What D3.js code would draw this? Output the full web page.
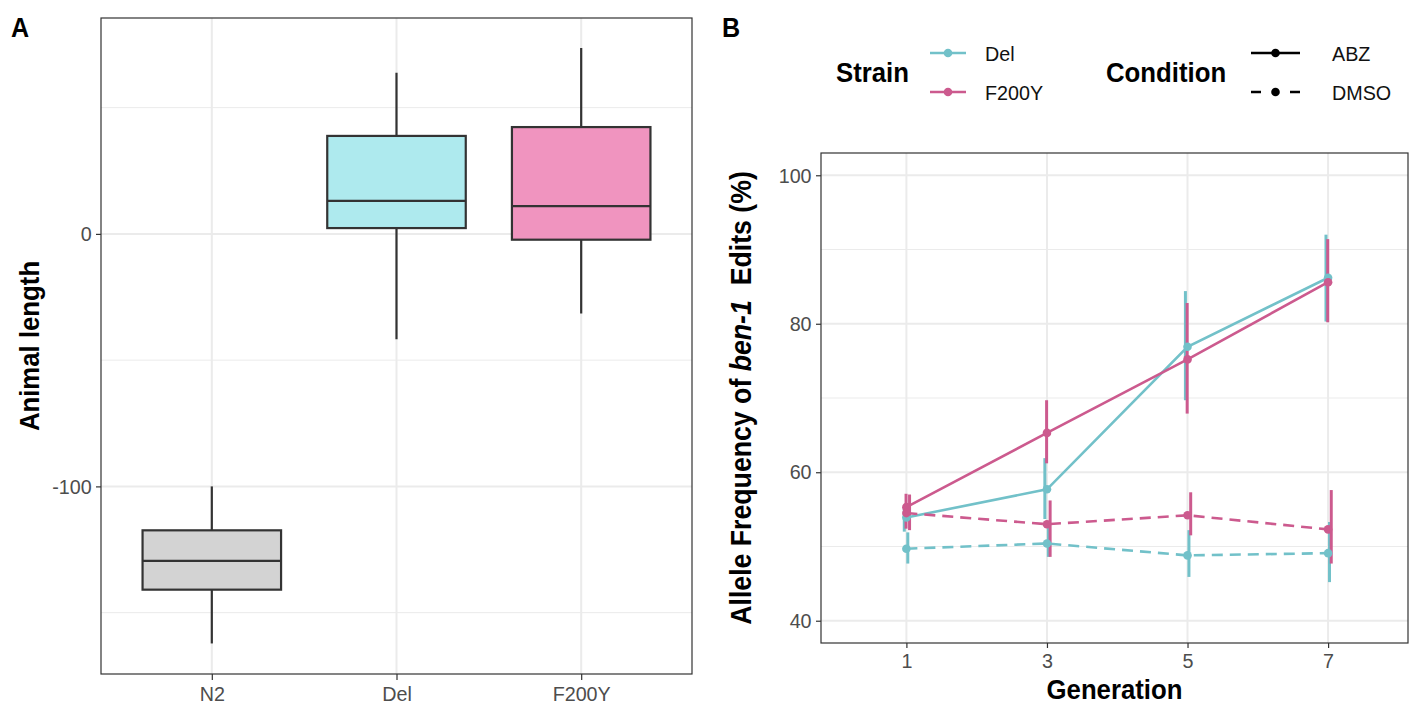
<!DOCTYPE html>
<html><head><meta charset="utf-8">
<script src="https://cdn.jsdelivr.net/npm/d3@7"></script>
<style>
html,body{margin:0;padding:0;background:#fff;}
svg{display:block;font-family:"Liberation Sans",Arial,Helvetica,sans-serif;}
</style></head>
<body>
<svg id="chart" width="1419" height="705"></svg>
<script>
// ---------- Panel A data (box plot of animal length) ----------
const boxCategories = ["N2", "Del", "F200Y"];
const boxWhiskerLow  = [-162.2, -41.7, -31.5];
const boxQ1          = [-140.9,   2.3,  -2.3];
const boxMedian      = [-129.5,  13.1,  11.0];
const boxQ3          = [-117.4,  38.8,  42.3];
const boxWhiskerHigh = [-100.0,  63.8,  73.6];
const boxFills       = ["#d3d3d3", "#aeeaee", "#f094bf"];
const boxYTicks      = [0, -100];

// ---------- Panel B data (allele frequency over generations) ----------
const generations = [1, 3, 5, 7];
const strains = ["Del", "F200Y"];
const conditions = ["ABZ", "DMSO"];
const strainColors = ["#72c1c9", "#cc5a8e"];
const delAbzMean    = [53.9, 57.7, 76.9, 86.2];
const delAbzLow     = [52.0, 53.7, 69.7, 80.3];
const delAbzHigh    = [55.2, 61.9, 84.4, 92.0];
const f200yAbzMean  = [55.3, 65.3, 75.2, 85.6];
const f200yAbzLow   = [52.4, 61.2, 67.9, 80.2];
const f200yAbzHigh  = [57.1, 69.7, 82.8, 91.4];
const delDmsoMean   = [49.7, 50.4, 48.8, 49.1];
const delDmsoLow    = [47.7, 48.6, 45.9, 45.2];
const delDmsoHigh   = [51.9, 53.3, 52.2, 53.3];
const f200yDmsoMean = [54.5, 53.0, 54.2, 52.3];
const f200yDmsoLow  = [52.2, 48.6, 51.5, 47.7];
const f200yDmsoHigh = [57.0, 56.2, 57.3, 57.6];
const lineYTicks = [40, 60, 80, 100];
const lineYMinor = [50, 70, 90];

const series = [
  {strain: 0, cond: 0, mean: delAbzMean,    low: delAbzLow,    high: delAbzHigh,    dodge: -0.03},
  {strain: 1, cond: 0, mean: f200yAbzMean,  low: f200yAbzLow,  high: f200yAbzHigh,  dodge: -0.005},
  {strain: 0, cond: 1, mean: delDmsoMean,   low: delDmsoLow,   high: delDmsoHigh,   dodge: 0.02},
  {strain: 1, cond: 1, mean: f200yDmsoMean, low: f200yDmsoLow, high: f200yDmsoHigh, dodge: 0.045}
];

const svg = d3.select("#chart");
const GRID = "#ebebeb", BORDER = "#333333", TICKTXT = "#4d4d4d";
const TICKFS = 21, TICKSX = 0.94, TITLEFS = 28, TITLESX = 0.92;

function label(g, x, y, str, o) {
  o = o || {};
  const t = g.append("text")
    .attr("transform", `translate(${x},${y})` + (o.rotate ? " rotate(-90)" : "") + ` scale(${o.sx || 1},1)`)
    .attr("text-anchor", o.anchor || "start")
    .attr("font-size", o.size || 16)
    .attr("font-weight", o.bold ? "bold" : "normal")
    .attr("fill", o.fill || "#000");
  if (typeof str === "string") t.text(str);
  else str.forEach(p => t.append("tspan").attr("font-style", p.italic ? "italic" : "normal").text(p.t));
  return t;
}
function styleAxis(g) {
  g.select(".domain").remove();
  g.selectAll(".tick line").attr("stroke", BORDER).attr("stroke-width", 1.2);
  g.selectAll(".tick text").attr("font-size", TICKFS).attr("fill", TICKTXT)
    .attr("font-family", "Liberation Sans, Arial, sans-serif")
    .attr("transform", `scale(${TICKSX},1)`);
}

// ================= Panel A =================
const A = {left: 101, right: 692, top: 18, bottom: 674};
const xA = d3.scalePoint().domain(boxCategories).range([A.left, A.right]).padding(0.6);
const yA = d3.scaleLinear().domain([-174.3, 85.5]).range([A.bottom, A.top]);
const gA = svg.append("g");

const minorA = [-150, -50, 50];
gA.selectAll(".minA").data(minorA).join("line")
  .attr("x1", A.left).attr("x2", A.right).attr("y1", d => yA(d)).attr("y2", d => yA(d))
  .attr("stroke", GRID).attr("stroke-width", 1);
gA.selectAll(".majA").data(boxYTicks).join("line")
  .attr("x1", A.left).attr("x2", A.right).attr("y1", d => yA(d)).attr("y2", d => yA(d))
  .attr("stroke", GRID).attr("stroke-width", 2);
gA.selectAll(".vA").data(boxCategories).join("line")
  .attr("x1", d => xA(d)).attr("x2", d => xA(d)).attr("y1", A.top).attr("y2", A.bottom)
  .attr("stroke", GRID).attr("stroke-width", 2);

const bw = xA.step() * 0.75;
boxCategories.forEach((c, i) => {
  const cx = xA(c);
  gA.append("line").attr("x1", cx).attr("x2", cx)
    .attr("y1", yA(boxWhiskerHigh[i])).attr("y2", yA(boxWhiskerLow[i]))
    .attr("stroke", BORDER).attr("stroke-width", 2.2);
  gA.append("rect").attr("x", cx - bw / 2).attr("width", bw)
    .attr("y", yA(boxQ3[i])).attr("height", yA(boxQ1[i]) - yA(boxQ3[i]))
    .attr("fill", boxFills[i]).attr("stroke", BORDER).attr("stroke-width", 2.2);
  gA.append("line").attr("x1", cx - bw / 2).attr("x2", cx + bw / 2)
    .attr("y1", yA(boxMedian[i])).attr("y2", yA(boxMedian[i]))
    .attr("stroke", BORDER).attr("stroke-width", 2.2);
});
gA.append("rect").attr("x", A.left).attr("y", A.top).attr("width", A.right - A.left).attr("height", A.bottom - A.top)
  .attr("fill", "none").attr("stroke", BORDER).attr("stroke-width", 1.2);

const axLA = gA.append("g").attr("transform", `translate(${A.left},0)`)
  .call(d3.axisLeft(yA).tickValues(boxYTicks).tickFormat(d => String(d)).tickSize(5).tickPadding(5));
styleAxis(axLA);
const axBA = gA.append("g").attr("transform", `translate(0,${A.bottom})`)
  .call(d3.axisBottom(xA).tickSize(6).tickPadding(6));
styleAxis(axBA);

label(gA, 39, (A.top + A.bottom) / 2, "Animal length", {rotate: true, anchor: "middle", size: TITLEFS, bold: true, sx: TITLESX});
label(gA, 11, 37, "A", {size: 27, bold: true, sx: 0.93});

// ================= Panel B =================
const B = {left: 821, right: 1408, top: 153, bottom: 643};
const xB = d3.scaleLinear().domain([-0.215, 8.137]).range([B.left, B.right]);
const yB = d3.scaleLinear().domain([37, 103]).range([B.bottom, B.top]);
const gB = svg.append("g");

gB.selectAll(".minB").data(lineYMinor).join("line")
  .attr("x1", B.left).attr("x2", B.right).attr("y1", d => yB(d)).attr("y2", d => yB(d))
  .attr("stroke", GRID).attr("stroke-width", 1);
gB.selectAll(".majB").data(lineYTicks).join("line")
  .attr("x1", B.left).attr("x2", B.right).attr("y1", d => yB(d)).attr("y2", d => yB(d))
  .attr("stroke", GRID).attr("stroke-width", 2);
gB.selectAll(".vB").data(generations).join("line")
  .attr("x1", d => xB(d)).attr("x2", d => xB(d)).attr("y1", B.top).attr("y2", B.bottom)
  .attr("stroke", GRID).attr("stroke-width", 2);

const DASH = "11,7";
series.forEach(s => {
  gB.append("g").selectAll("line").data(generations).join("line")
    .attr("x1", (d) => xB(d + s.dodge)).attr("x2", (d) => xB(d + s.dodge))
    .attr("y1", (d, i) => yB(s.high[i])).attr("y2", (d, i) => yB(s.low[i]))
    .attr("stroke", strainColors[s.strain]).attr("stroke-width", 3);
});
series.forEach(s => {
  const line = d3.line().x((d) => xB(d)).y((d, i) => yB(s.mean[i]));
  gB.append("path").attr("d", line(generations)).attr("fill", "none")
    .attr("stroke", strainColors[s.strain]).attr("stroke-width", 2.6)
    .attr("stroke-dasharray", s.cond === 1 ? DASH : null);
});
series.forEach(s => {
  gB.append("g").selectAll("circle").data(generations).join("circle")
    .attr("cx", d => xB(d)).attr("cy", (d, i) => yB(s.mean[i])).attr("r", 4.3)
    .attr("fill", strainColors[s.strain]);
});

gB.append("rect").attr("x", B.left).attr("y", B.top).attr("width", B.right - B.left).attr("height", B.bottom - B.top)
  .attr("fill", "none").attr("stroke", BORDER).attr("stroke-width", 1.2);

const axLB = gB.append("g").attr("transform", `translate(${B.left},0)`)
  .call(d3.axisLeft(yB).tickValues(lineYTicks).tickFormat(d => String(d)).tickSize(5).tickPadding(5));
styleAxis(axLB);
const axBB = gB.append("g").attr("transform", `translate(0,${B.bottom})`)
  .call(d3.axisBottom(xB).tickValues(generations).tickFormat(d => String(d)).tickSize(5).tickPadding(5));
styleAxis(axBB);

label(gB, 751, (B.top + B.bottom) / 2,
  [{t: "Allele Frequency of "}, {t: "ben-1", italic: true}, {t: "\u00a0 Edits (%)"}],
  {rotate: true, anchor: "middle", size: 29, bold: true, sx: TITLESX});
label(gB, (B.left + B.right) / 2, 699, "Generation", {anchor: "middle", size: TITLEFS, bold: true, sx: TITLESX});
label(gB, 722, 37, "B", {size: 27, bold: true, sx: 0.93});

// ---------- Legends ----------
const gL = svg.append("g");
label(gL, 836, 82, "Strain", {size: TITLEFS, bold: true, sx: TITLESX});
const keyY = [53, 92];
strains.forEach((s, i) => {
  gL.append("line").attr("x1", 930).attr("x2", 966).attr("y1", keyY[i]).attr("y2", keyY[i])
    .attr("stroke", strainColors[i]).attr("stroke-width", 2.6);
  gL.append("circle").attr("cx", 948).attr("cy", keyY[i]).attr("r", 4.3).attr("fill", strainColors[i]);
  label(gL, 985, keyY[i] + 7.5, s, {size: TICKFS, sx: TICKSX, fill: "#111"});
});
label(gL, 1106, 82, "Condition", {size: TITLEFS, bold: true, sx: TITLESX});
conditions.forEach((c, i) => {
  const y = keyY[i];
  gL.append("line").attr("x1", 1251).attr("x2", 1300).attr("y1", y).attr("y2", y)
    .attr("stroke", "#000").attr("stroke-width", 2.6)
    .attr("stroke-dasharray", i === 1 ? "10,29,10" : null);
  gL.append("circle").attr("cx", 1275.5).attr("cy", y).attr("r", 4.3).attr("fill", "#000");
  label(gL, 1332, y + 7.5, c, {size: TICKFS, sx: TICKSX, fill: "#111"});
});
</script>
</body></html>
